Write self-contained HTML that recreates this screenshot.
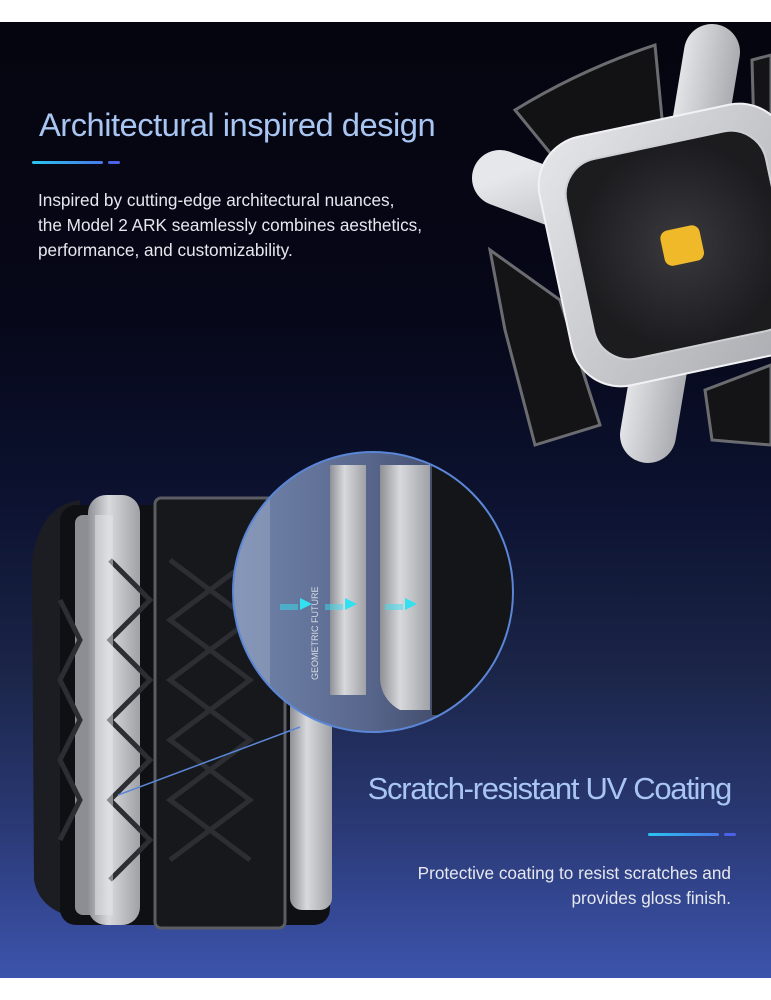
<!DOCTYPE html>
<html><head><meta charset="utf-8"><style>
html,body{margin:0;padding:0;background:#fff;}
#s{position:relative;width:771px;height:1000px;overflow:hidden;background:#fff;font-family:"Liberation Sans",sans-serif;}
#bg{position:absolute;left:0;top:22px;width:771px;height:956px;background:linear-gradient(180deg,#05050f 0%,#060718 30%,#0c1230 50%,#1b2548 68%,#2b3a78 85%,#3c54ac 100%);}
.t{position:absolute;color:#a9c6f2;letter-spacing:-0.5px;white-space:nowrap;}
.p{position:absolute;color:#e6e8ee;font-size:17.2px;line-height:25px;white-space:nowrap;}
.bar{position:absolute;height:3px;border-radius:2px;}
</style></head><body><div id="s"><div id="bg"></div>
<svg width="771" height="1000" style="position:absolute;left:0;top:0">
<defs>
<linearGradient id="g1" x1="0" x2="1"><stop offset="0" stop-color="#8e9096"/><stop offset=".4" stop-color="#d8d9dc"/><stop offset="1" stop-color="#9fa1a6"/></linearGradient>
<linearGradient id="g2" x1="0" y1="0" x2="1" y2="1"><stop offset="0" stop-color="#e6e7ea"/><stop offset="1" stop-color="#a6a8ad"/></linearGradient>
<radialGradient id="mesh"><stop offset="0" stop-color="#3a3a3e"/><stop offset="1" stop-color="#1c1c1f"/></radialGradient>
<linearGradient id="lens" x1="0" x2="1"><stop offset="0" stop-color="#7487ae"/><stop offset=".5" stop-color="#56648a"/><stop offset="1" stop-color="#2a3046"/></linearGradient>
<clipPath id="cc"><circle cx="373" cy="592" r="140"/></clipPath>
</defs>
<g>
<path d="M515 110 Q580 70 655 45 L665 150 L560 165 Z" fill="#121214" stroke="#6b6c70" stroke-width="3"/>
<path d="M490 250 L560 300 L600 425 L535 445 L505 330 Z" fill="#141416" stroke="#6b6c70" stroke-width="3"/>
<path d="M705 390 L771 365 L771 445 L712 440 Z" fill="#141416" stroke="#6b6c70" stroke-width="3"/>
<path d="M752 60 L771 55 L771 200 L755 170 Z" fill="#141416" stroke="#6b6c70" stroke-width="3"/>
<g stroke="url(#g2)" stroke-linecap="round" stroke-width="56" fill="none">
<line x1="680" y1="245" x2="712" y2="52"/>
<line x1="680" y1="245" x2="500" y2="178"/>
<line x1="680" y1="245" x2="648" y2="435"/>
<line x1="680" y1="245" x2="860" y2="305"/>
</g>
<g transform="rotate(-12 680 245)">
<rect x="553" y="118" width="254" height="254" rx="50" fill="url(#g2)" stroke="#f2f2f4" stroke-width="2"/>
<rect x="578" y="143" width="204" height="204" rx="36" fill="url(#mesh)" stroke="#cfd0d3" stroke-width="2"/>
<rect x="662" y="228" width="40" height="36" rx="8" fill="#f0b92a"/>
</g>
</g>
<path d="M32 560 Q40 505 80 500 L90 920 Q40 915 34 880 Z" fill="#1c1d22"/>
<rect x="60" y="505" width="270" height="420" rx="16" fill="#0f1014"/>
<rect x="75" y="515" width="30" height="400" rx="8" fill="#8c8e94"/>
<rect x="88" y="495" width="52" height="430" rx="18" fill="url(#g1)"/>
<rect x="155" y="498" width="130" height="430" rx="6" fill="#17181c" stroke="#5b5d62" stroke-width="3"/>
<rect x="290" y="500" width="42" height="410" rx="12" fill="url(#g1)"/>
<g stroke="#2c2e34" stroke-width="5" fill="none">
<path d="M110 560 L150 600 L110 640 L150 680 L110 720 L150 760 L110 800 L150 840 L110 880"/>
<path d="M60 600 L80 640 L60 680 L80 720 L60 760 L80 800 L60 840"/>
<path d="M170 560 L250 620 L170 680 L250 740 L170 800 L250 860"/>
<path d="M250 560 L170 620 L250 680 L170 740 L250 800 L170 860"/>
</g>
<rect x="95" y="515" width="18" height="400" fill="#e4e5e8" opacity=".5"/>
<line x1="118" y1="795" x2="300" y2="727" stroke="#5b86d6" stroke-width="1.5"/>
<g clip-path="url(#cc)">
<rect x="230" y="450" width="290" height="290" fill="url(#lens)"/>
<rect x="230" y="450" width="40" height="290" fill="#9aa8c4" opacity=".5"/>
<rect x="330" y="465" width="36" height="230" fill="url(#g1)"/>
<path d="M380 465 L430 465 L430 710 L400 710 Q382 700 380 680 Z" fill="url(#g1)"/>
<rect x="432" y="465" width="90" height="250" fill="#141519"/>
<path d="M300 610 L312 604 L300 598 Z" fill="#33e0f0"/>
<rect x="280" y="604" width="18" height="6" fill="#33e0f0" opacity=".5"/>
<path d="M345 610 L357 604 L345 598 Z" fill="#33e0f0"/>
<rect x="325" y="604" width="18" height="6" fill="#33e0f0" opacity=".5"/>
<path d="M405 610 L417 604 L405 598 Z" fill="#33e0f0"/>
<rect x="385" y="604" width="18" height="6" fill="#33e0f0" opacity=".5"/>
<text x="318" y="680" transform="rotate(-90 318 680)" font-size="9" fill="#d8dce6" font-family="Liberation Sans">GEOMETRIC FUTURE</text>
</g>
<circle cx="373" cy="592" r="140" fill="none" stroke="#5b86d6" stroke-width="2"/>
</svg>
<div class="t" style="left:39px;top:106px;font-size:32.7px;">Architectural inspired design</div>
<div class="bar" style="left:32px;top:161px;width:71px;background:linear-gradient(90deg,#29c5f0,#4a76e8)"></div>
<div class="bar" style="left:108px;top:161px;width:12px;background:#4b62e6"></div>
<div class="p" style="left:38px;top:188px;">Inspired by cutting-edge architectural nuances,<br>the Model 2 ARK seamlessly combines aesthetics,<br>performance, and customizability.</div>
<div class="t" style="right:40px;top:771px;font-size:31px;letter-spacing:-1.3px;">Scratch-resistant UV Coating</div>
<div class="bar" style="left:648px;top:833px;width:71px;background:linear-gradient(90deg,#29c5f0,#4a76e8)"></div>
<div class="bar" style="left:724px;top:833px;width:12px;background:#4b62e6"></div>
<div class="p" style="right:40px;top:861px;text-align:right;">Protective coating to resist scratches and<br>provides gloss finish.</div>
</div></body></html>
